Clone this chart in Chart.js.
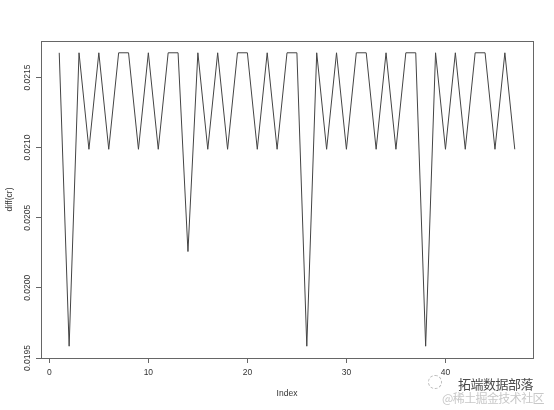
<!DOCTYPE html>
<html>
<head>
<meta charset="utf-8">
<script src="https://cdn.jsdelivr.net/npm/chart.js@4"></script>
<style>
  html, body { margin: 0; padding: 0; background: #fff; }
  #wrap { position: relative; width: 554px; height: 410px; }
  #mark1 { position: absolute; left: 458px; top: 374px; font: 13px "Noto Sans CJK SC"; color: #4a4a4a; letter-spacing: -0.5px; }
  #mark2 { position: absolute; left: 442px; top: 389px; font: 12px "Noto Sans CJK SC"; color: #c8c8c8; letter-spacing: -0.6px; }
  #icon { position: absolute; left: 428px; top: 375px; width: 12px; height: 12px; border: 1px dashed #bbb; border-radius: 50%; }
</style>
</head>
<body>
<div id="wrap">
  <canvas id="chart" width="554" height="410"></canvas>
  <div id="icon"></div>
  <div id="mark1">拓端数据部落</div>
  <div id="mark2">@稀土掘金技术社区</div>
</div>
<script>
// index of each difference
const indexValues = [1, 2, 3, 4, 5, 6, 7, 8, 9, 10, 11, 12, 13, 14, 15, 16, 17, 18, 19, 20,
  21, 22, 23, 24, 25, 26, 27, 28, 29, 30, 31, 32, 33, 34, 35, 36, 37, 38, 39, 40,
  41, 42, 43, 44, 45, 46, 47];
// diff(cr) values
const diffValues = [0.021676, 0.019584, 0.021676, 0.020988, 0.021676, 0.020988, 0.021676, 0.021676,
  0.020988, 0.021676, 0.020988, 0.021676, 0.021676, 0.020259, 0.021676, 0.020988, 0.021676,
  0.020988, 0.021676, 0.021676, 0.020988, 0.021676, 0.020988, 0.021676, 0.021676, 0.019584,
  0.021676, 0.020988, 0.021676, 0.020988, 0.021676, 0.021676, 0.020988, 0.021676, 0.020988,
  0.021676, 0.021676, 0.019584, 0.021676, 0.020988, 0.021676, 0.020988, 0.021676, 0.021676,
  0.020988, 0.021676, 0.020988];
const xTicks = [0, 10, 20, 30, 40];
const yTicks = [0.0195, 0.0200, 0.0205, 0.0210, 0.0215];
const yTickLabels = ["0.0195", "0.0200", "0.0205", "0.0210", "0.0215"];
const xTitle = "Index";
const yTitle = "diff(cr)";

const points = indexValues.map((x, i) => ({ x: x, y: diffValues[i] }));

// R style: box round the plot, tick labels, axis titles
const rPlot = {
  id: 'rPlot',
  afterDraw(chart) {
    const c = chart.ctx;
    const a = chart.chartArea;
    const xs = chart.scales.x;
    const ys = chart.scales.y;
    c.save();
    c.strokeStyle = '#666';
    c.lineWidth = 1;
    c.strokeRect(Math.round(a.left) + 0.5, Math.round(a.top) + 0.5,
      Math.round(a.right - a.left), Math.round(a.bottom - a.top));

    c.fillStyle = '#333';
    c.font = '8.5px "Liberation Sans"';
    c.textAlign = 'center';
    c.textBaseline = 'middle';
    xTicks.forEach(v => c.fillText(String(v), xs.getPixelForValue(v), 373));
    c.fillText(xTitle, (a.left + a.right) / 2, 394);

    yTicks.forEach((v, i) => {
      c.save();
      c.translate(28, ys.getPixelForValue(v));
      c.rotate(-Math.PI / 2);
      c.fillText(yTickLabels[i], 0, 0);
      c.restore();
    });
    c.save();
    c.translate(10, (a.top + a.bottom) / 2);
    c.rotate(-Math.PI / 2);
    c.fillText(yTitle, 0, 0);
    c.restore();
    c.restore();
  }
};

new Chart(document.getElementById('chart').getContext('2d'), {
  type: 'line',
  data: {
    datasets: [{
      data: points,
      borderColor: '#444',
      borderWidth: 1,
      pointRadius: 0,
      tension: 0,
      fill: false
    }]
  },
  options: {
    responsive: false,
    animation: false,
    layout: { padding: { left: 41, right: 21, top: 41, bottom: 52 } },
    plugins: { legend: { display: false }, tooltip: { enabled: false } },
    scales: {
      x: {
        type: 'linear',
        min: -0.84,
        max: 48.84,
        afterBuildTicks: s => { s.ticks = xTicks.map(v => ({ value: v })); },
        afterFit: s => { s.height = 0; },
        ticks: { display: false },
        border: { display: false },
        grid: { drawOnChartArea: false, drawTicks: true, tickLength: 5, color: '#666' }
      },
      y: {
        type: 'linear',
        min: 0.0195,
        max: 0.02176,
        afterBuildTicks: s => { s.ticks = yTicks.map(v => ({ value: v })); },
        afterFit: s => { s.width = 0; },
        ticks: { display: false },
        border: { display: false },
        grid: { drawOnChartArea: false, drawTicks: true, tickLength: 5, color: '#666' }
      }
    }
  },
  plugins: [rPlot]
});
</script>
</body>
</html>
